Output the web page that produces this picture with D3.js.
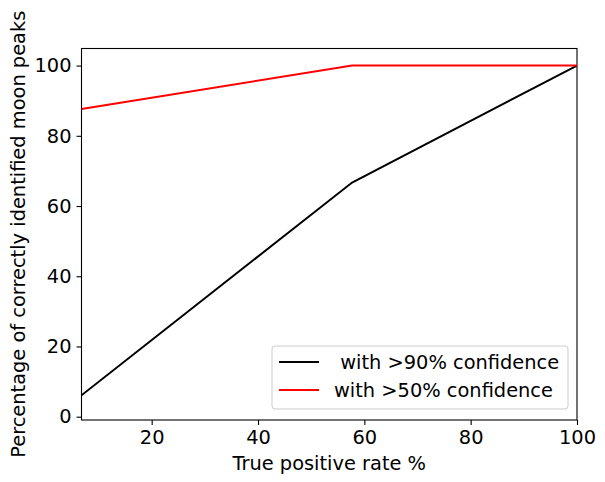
<!DOCTYPE html>
<html>
<head>
<meta charset="utf-8">
<script src="https://cdn.jsdelivr.net/npm/d3@7"></script>
<style>
  body { margin: 0; background: #fff; }
  text { font-family: "DejaVu Sans", sans-serif; fill: #000; }
</style>
</head>
<body>
<div class="plot-container"></div>
<script>
// data
const tprValues = [6.8, 57.7, 100];
const conf90Values = [6.1, 66.7, 100];
const conf50Values = [87.6, 100, 100];
const xTicks = [20, 40, 60, 80, 100];
const yTicks = [0, 20, 40, 60, 80, 100];
const seriesNames = [" with >90% confidence", "with >50% confidence"];
const seriesColors = ["#000000", "#ff0000"];

const width = 605, height = 482;
const margin = { top: 48.5, right: 28, bottom: 62, left: 81.5 };
const fontSize = 19.4;

const svg = d3.select("div.plot-container")
  .append("svg")
  .attr("width", width)
  .attr("height", height);

const x = d3.scaleLinear()
  .domain([6.8, 100])
  .range([margin.left, width - margin.right]);

const y = d3.scaleLinear()
  .domain([-0.94, 104.86])
  .range([height - margin.bottom, margin.top]);

// *************************************
// AXES
// *************************************

let xAxis = svg.append("g")
  .attr("transform", `translate(0, ${height - margin.bottom})`)
  .call(d3.axisBottom(x).tickValues(xTicks).tickSize(5).tickPadding(5).tickFormat(d3.format("d")));

let yAxis = svg.append("g")
  .attr("transform", `translate(${margin.left}, 0)`)
  .call(d3.axisLeft(y).tickValues(yTicks).tickSize(5).tickPadding(5).tickFormat(d3.format("d")));

[xAxis, yAxis].forEach((ax) => {
  ax.select(".domain").remove();
  ax.selectAll("line").attr("stroke", "#000").attr("stroke-width", 1.1);
  ax.selectAll("text").style("font-size", fontSize + "px");
});

// box around plot area
svg.append("rect")
  .attr("x", margin.left)
  .attr("y", margin.top)
  .attr("width", width - margin.left - margin.right)
  .attr("height", height - margin.top - margin.bottom)
  .attr("fill", "none")
  .attr("stroke", "#000")
  .attr("stroke-width", 1.1);

// axis labels
svg.append("text")
  .attr("x", (margin.left + width - margin.right) / 2)
  .attr("y", 470)
  .attr("text-anchor", "middle")
  .style("font-size", fontSize + "px")
  .text("True positive rate %");

svg.append("text")
  .attr("transform", `translate(25, ${(margin.top + height - margin.bottom) / 2}) rotate(-90)`)
  .attr("text-anchor", "middle")
  .style("font-size", fontSize + "px")
  .text("Percentage of correctly identified moon peaks");

// *************************************
// LINES
// *************************************

svg.append("clipPath").attr("id", "plot-clip")
  .append("rect")
  .attr("x", margin.left)
  .attr("y", margin.top)
  .attr("width", width - margin.left - margin.right)
  .attr("height", height - margin.top - margin.bottom);

const line = d3.line()
  .x((d) => x(d[0]))
  .y((d) => y(d[1]));

[conf90Values, conf50Values].forEach((vals, i) => {
  svg.append("path")
    .datum(tprValues.map((t, j) => [t, vals[j]]))
    .attr("clip-path", "url(#plot-clip)")
    .attr("fill", "none")
    .attr("stroke", seriesColors[i])
    .attr("stroke-width", 2)
    .attr("d", line);
});

// *************************************
// LEGEND
// *************************************

const legend = svg.append("g").attr("transform", "translate(272, 346)");
legend.append("rect")
  .attr("width", 296)
  .attr("height", 63)
  .attr("rx", 3)
  .attr("fill", "#fff")
  .attr("fill-opacity", 0.8)
  .attr("stroke", "#cccccc")
  .attr("stroke-width", 1);

seriesNames.forEach((name, i) => {
  let row = legend.append("g").attr("transform", `translate(0, ${16 + i * 28})`);
  row.append("line")
    .attr("x1", 7).attr("x2", 47)
    .attr("stroke", seriesColors[i])
    .attr("stroke-width", 2);
  row.append("text")
    .attr("x", 62)
    .attr("dy", "0.35em")
    .attr("xml:space", "preserve")
    .style("white-space", "pre")
    .style("font-size", fontSize + "px")
    .text(name);
});
</script>
</body>
</html>
